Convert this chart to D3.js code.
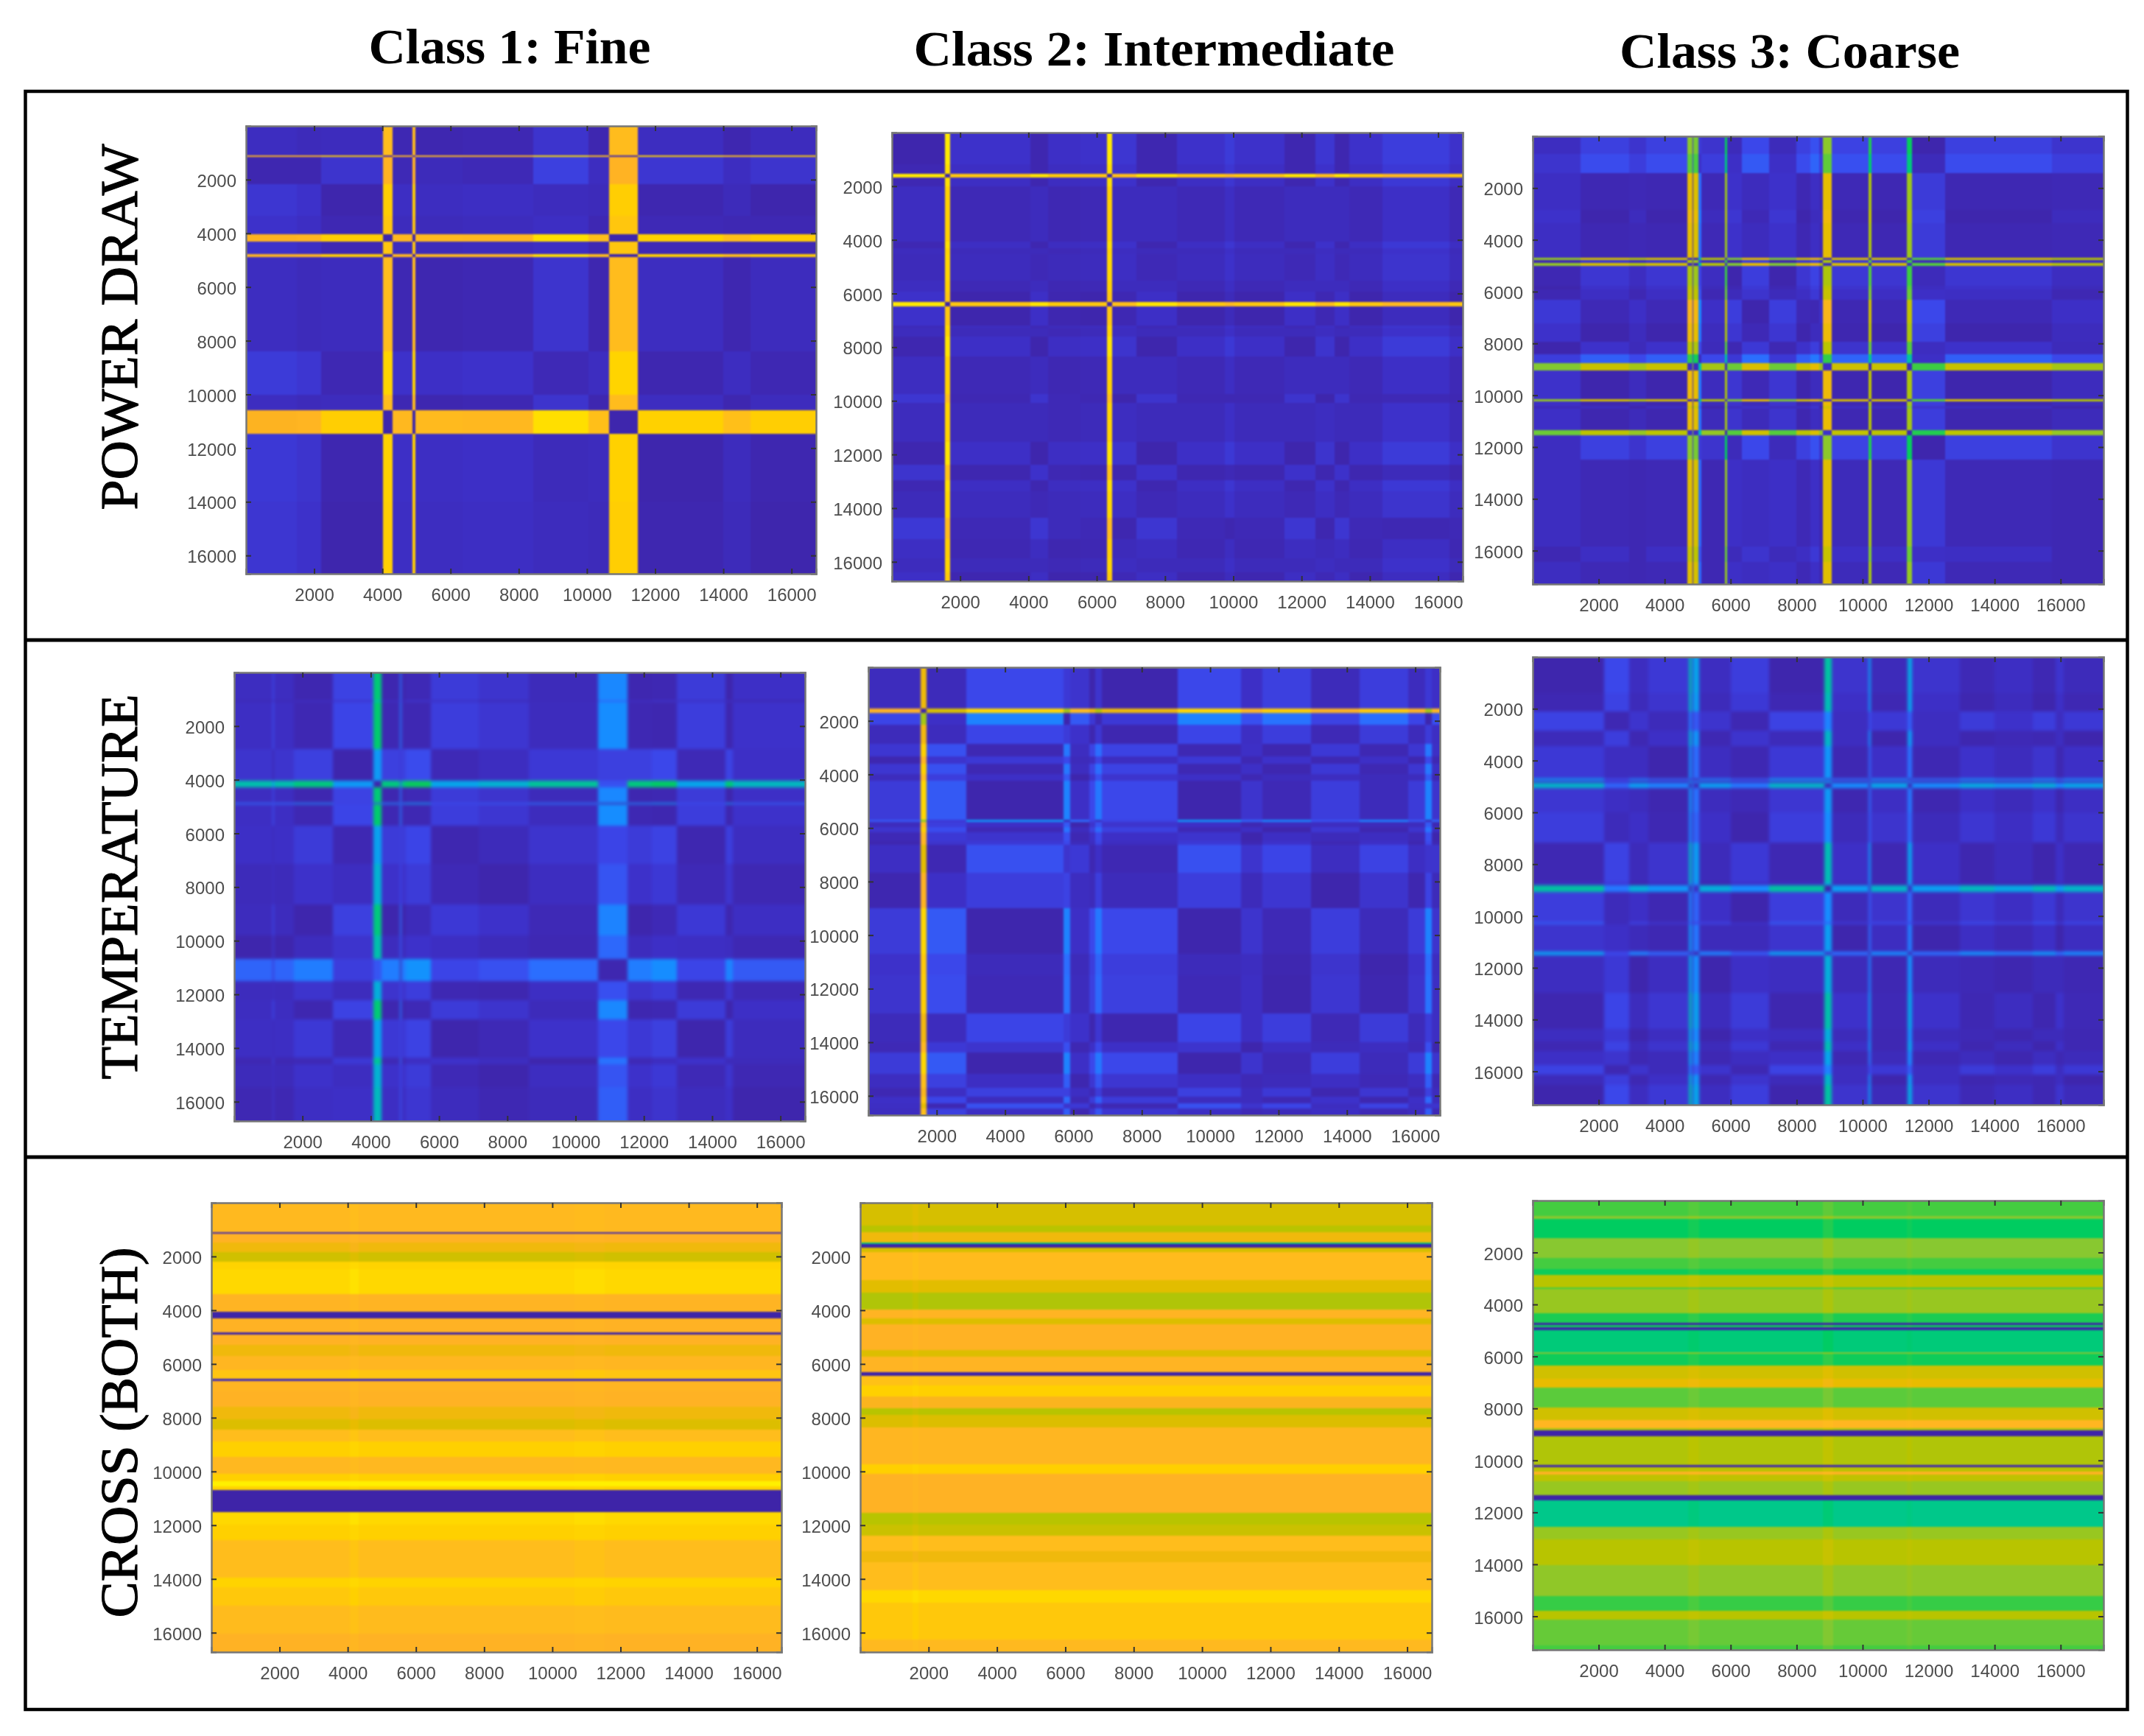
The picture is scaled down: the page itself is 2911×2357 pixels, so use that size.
<!DOCTYPE html>
<html><head><meta charset="utf-8">
<style>html,body{margin:0;padding:0;background:#fff}svg{display:block}</style>
<script src="https://cdn.jsdelivr.net/npm/d3@7"></script>
</head><body>
<script>
// ---- data: [segment start, level] ----
const columnTitles = ["Class 1: Fine", "Class 2: Intermediate", "Class 3: Coarse"];
const rowTitles = ["POWER DRAW", "TEMPERATURE", "CROSS (BOTH)"];
const tickValues = [2000,4000,6000,8000,10000,12000,14000,16000];

const power1Cols = [[0,.16],[1500,.14],[2200,.05],[4020,1.0],[4300,.12],[4880,1.0],[4960,.11],[6350,.12],[8420,0],[10050,.09],[10640,1.0],[11500,.04],[14000,.09],[14800,.05]];
const power1Rows = [[0,.10],[1090,1.0],[1150,.15],[2170,.05],[3350,.07],[4020,1.0],[4300,.07],[4780,1.0],[4890,.10],[8400,.03],[10020,.10],[10600,1.0],[11480,.04],[14000,.05]];

const power2Cols = [[0,.01],[1555,1.03],[1713,.10],[4057,.02],[4564,.09],[5522,.10],[6311,1.03],[6446,.12],[7156,.02],[8340,.10],[9748,.14],[10030,.10],[11495,.02],[12397,.12],[12960,.02],[13389,.10],[14369,.15],[16341,.10]];
const power2Rows = [[0,.01],[1190,.03],[1536,1.03],[1686,.03],[2000,.07],[4077,.03],[4308,.06],[4539,.05],[5521,.07],[5925,.10],[6306,1.03],[6468,.10],[7195,.05],[7311,.06],[7600,.02],[8350,.07],[9736,.12],[10083,.06],[11527,.02],[12393,.11],[12970,.03],[13375,.05],[14357,.13],[15165,.08],[15858,.06],[16378,.09]];

const power3Cols = [[0,.14],[1457,.05],[2915,.10],[3440,.05],[4690,.85],[4840,.10],[4875,.83],[5015,.33],[5110,.10],[5830,.74],[5900,.16],[6330,.02],[7171,.16],[7985,.05],[8420,0],[8690,.10],[8800,.85],[9070,.04],[10180,.76],[10260,.05],[11330,.74],[11500,.20],[12510,.05],[15740,.10]];
const power3Rows = [[0,.20],[695,.24],[1414,.07],[2851,.05],[3366,.07],[4684,.80],[4780,.16],[4888,.80],[4996,.16],[5786,.14],[5906,.12],[6325,.02],[7224,.05],[7943,.14],[8422,.28],[8757,.78],[9057,.05],[10160,.80],[10243,.06],[10400,.10],[10520,.06],[11357,.76],[11537,.20],[12495,.08],[15850,.12],[16450,.08]];

const temp1Cols = [[0,.10],[1120,.22],[1160,.10],[1758,.05],[2885,.20],[4068,.55],[4316,.05],[4857,.32],[4900,.05],[5026,.01],[5759,.17],[7168,.14],[8633,.08],[10661,.35],[11529,.05],[12239,.02],[12972,.17],[14380,.04],[14606,.12]];
const temp1Rows = [[0,.04],[1050,.12],[1100,.03],[2867,.20],[4046,.55],[4277,.04],[4855,.36],[4925,.03],[5699,.18],[7144,.14],[8647,.05],[9803,.10],[10670,.34],[11502,.15],[12230,.04],[12924,.17],[14369,.08],[14600,.14],[15467,.12]];

const temp2Cols = [[0,.13],[1534,.98],[1695,.22],[2870,0],[5715,.30],[5900,.08],[6457,.18],[6643,.28],[6828,.18],[9055,0],[10910,.10],[11529,.03],[12951,.14],[14374,.04],[15796,.13],[16291,.30],[16477,.10]];
const temp2Rows = [[0,.18],[1552,.98],[1710,.30],[2144,.17],[2868,.02],[3328,.12],[3591,.02],[3986,.08],[4249,0],[5696,.34],[5775,.08],[5959,.03],[6150,.10],[6485,.12],[6617,.20],[7669,.14],[8985,0],[10695,.04],[11484,.03],[12931,.17],[13984,.10],[14378,0],[15167,.07],[15694,.15],[16023,.05],[16286,.20],[16483,.07]];

const temp3Cols = [[0,.06],[2157,.24],[2915,.12],[3498,.18],[4722,.50],[4816,.18],[4874,.44],[5037,.12],[6003,.20],[7171,.06],[8840,.52],[9070,.16],[10180,.42],[10250,.10],[11360,.45],[11497,.16],[12943,.09],[13992,.13],[15158,.08],[15858,.16],[16091,.10]];
const temp3Rows = [[0,.06],[1399,.08],[2117,.22],[2835,.10],[3433,.18],[4688,.42],[4784,.15],[4868,.48],[5071,.17],[6004,.20],[7176,.08],[8695,.12],[8814,.52],[9078,.20],[10250,.28],[10310,.16],[11362,.42],[11505,.12],[12965,.07],[14375,.12],[14854,.08],[15213,.14],[15751,.22],[16110,.10],[16529,.06]];

const cross1Rows = [[0,.90],[1085,.02],[1155,.86],[1490,.82],[1835,.76],[2205,.98],[2470,1.0],[3390,.87],[4050,0],[4300,.86],[4825,0],[4905,.86],[5300,.82],[5700,.88],[6220,.94],[6565,.05],[6625,.87],[7030,.86],[7600,.82],[8065,.78],[8435,.92],[8875,.97],[9450,.89],[10085,.97],[10375,1.05],[10550,.98],[10685,0],[11505,1.0],[11990,.97],[12565,.92],[13950,.98],[14300,.95],[15000,.91],[16030,.86]];
const cross1ColShift = [[0,0],[4070,.02],[4320,0],[10650,.01],[11530,0]];

const cross2Rows = [[0,.77],[855,.72],[1085,.82],[1490,.52],[1523,0],[1685,.77],[1835,.91],[2875,.79],[3335,.71],[3970,.87],[4315,.78],[4510,.86],[5470,.78],[5735,.87],[6300,0],[6450,.93],[6800,.97],[7200,.85],[7660,.72],[7890,.78],[8355,.88],[9740,.97],[10085,.86],[11530,.72],[11990,.75],[12395,.92],[12970,.82],[13375,.92],[14415,1.0],[14875,.95],[16260,.90]];
const cross2ColShift = [[0,0],[1540,.015],[1700,0]];

const cross3Rows = [[0,.60],[605,.66],[700,.55],[1450,.66],[2220,.60],[2640,.56],[2855,.72],[3345,.60],[3415,.68],[4330,.57],[4695,0],[4795,.56],[4890,0],[4990,.52],[5850,.66],[5905,.56],[6340,.76],[6860,.80],[7210,.62],[7960,.76],[8450,.88],[8760,.70],[8830,0],[9080,.71],[10165,.02],[10265,.72],[10440,.86],[10540,.73],[10800,.68],[11330,0],[11530,.50],[12555,.68],[13050,.72],[14030,.67],[15225,.59],[15790,.72],[16140,.63],[17120,.60]];
const cross3ColShift = [[0,0],[4700,.015],[5050,0],[8800,.025],[9100,0],[11330,.01],[11500,0]];

const colorStops  = [0,.10,.20,.28,.34,.40,.46,.50,.55,.60,.66,.72,.76,.80,.86,.92,.97,1.0,1.05];
const colorValues = ["#3e24a8","#3d30c8","#3b48ec","#2a70ff","#1490ff","#05a8e8","#00bfb0","#00c88a","#00cc60","#44cc40","#88c830","#b8c400","#d0c000","#e8bc00","#ffb224","#ffbd1c","#ffd000","#ffd800","#fff000"];

// ---- layout ----
const W = 2911, H = 2357;
const panels = [
 {kind:"dist",blur:1.2,cols:power1Cols,rows:power1Rows,x0:334,x1:1108,y0:171,y1:779,nx:16720,ny:16680},
 {kind:"dist",blur:1.2,cols:power2Cols,rows:power2Rows,x0:1211,x1:1986,y0:180,y1:789,nx:16720,ny:16720},
 {kind:"dist",blur:1.0,cols:power3Cols,rows:power3Rows,x0:2081,x1:2856,y0:185,y1:793,nx:17300,ny:17290},
 {kind:"dist",blur:2.0,cols:temp1Cols,rows:temp1Rows,x0:318,x1:1093,y0:913,y1:1522,nx:16720,ny:16720},
 {kind:"dist",blur:1.7,cols:temp2Cols,rows:temp2Rows,x0:1179,x1:1955,y0:906,y1:1514,nx:16720,ny:16720},
 {kind:"dist",blur:2.0,cols:temp3Cols,rows:temp3Rows,x0:2081,x1:2856,y0:892,y1:1500,nx:17300,ny:17290},
 {kind:"cross",blur:1.0,cols:cross1ColShift,rows:cross1Rows,x0:287,x1:1061,y0:1633,y1:2243,nx:16720,ny:16720},
 {kind:"cross",blur:1.0,cols:cross2ColShift,rows:cross2Rows,x0:1168,x1:1944,y0:1633,y1:2243,nx:16720,ny:16720},
 {kind:"cross",blur:1.0,cols:cross3ColShift,rows:cross3Rows,x0:2081,x1:2856,y0:1630,y1:2240,nx:17300,ny:17290}
];
const titleLayout = [{x:692,y:86,w:383},{x:1567,y:89,w:653},{x:2430,y:92,w:462}];
const sideLayout  = [{y:444,w:497},{y:1204,w:523},{y:1945,w:503}];

const color = d3.scaleLinear().domain(colorStops).range(colorValues).clamp(true);

const svg = d3.select("body").append("svg").attr("width",W).attr("height",H).attr("viewBox",`0 0 ${W} ${H}`);
svg.append("rect").attr("width",W).attr("height",H).attr("fill","#fff");
const defs = svg.append("defs");
defs.append("filter").attr("id","softText").attr("x","-5%").attr("y","-20%").attr("width","110%").attr("height","140%")
  .append("feGaussianBlur").attr("stdDeviation",0.5);

// frame
svg.append("rect").attr("x",34.5).attr("y",124).attr("width",2854).attr("height",2197)
  .attr("fill","none").attr("stroke","#000").attr("stroke-width",4.5);
[869,1571].forEach(y=>svg.append("line").attr("x1",34).attr("x2",2889).attr("y1",y).attr("y2",y)
  .attr("stroke","#000").attr("stroke-width",5));

// titles
svg.selectAll("text.col").data(columnTitles).join("text").attr("class","col")
  .attr("x",(d,i)=>titleLayout[i].x).attr("y",(d,i)=>titleLayout[i].y)
  .attr("text-anchor","middle").attr("font-family","'Liberation Serif',serif").attr("font-weight","bold")
  .attr("font-size",68).attr("textLength",(d,i)=>titleLayout[i].w).attr("lengthAdjust","spacingAndGlyphs")
  .attr("fill","#000").text(d=>d);
svg.selectAll("text.side").data(rowTitles).join("text").attr("class","side")
  .attr("transform",(d,i)=>`translate(186,${sideLayout[i].y}) rotate(-90)`)
  .attr("text-anchor","middle").attr("font-family","'Liberation Serif',serif")
  .attr("font-size",72).attr("textLength",(d,i)=>sideLayout[i].w).attr("lengthAdjust","spacingAndGlyphs")
  .attr("stroke","#000").attr("stroke-width",1.1)
  .attr("fill","#000").text(d=>d);

panels.forEach((p,i)=>{
  const xs = d3.scaleLinear().domain([1,p.nx]).range([p.x0,p.x1]);
  const ys = d3.scaleLinear().domain([1,p.ny]).range([p.y0,p.y1]);
  defs.append("clipPath").attr("id","clip"+i).append("rect")
    .attr("x",p.x0).attr("y",p.y0).attr("width",p.x1-p.x0).attr("height",p.y1-p.y0);
  defs.append("filter").attr("id","soft"+i).attr("x","-5%").attr("y","-5%").attr("width","110%").attr("height","110%")
    .attr("color-interpolation-filters","sRGB")
    .append("feGaussianBlur").attr("stdDeviation",p.blur);
  const g = svg.append("g").attr("clip-path",`url(#clip${i})`).append("g").attr("filter",`url(#soft${i})`);
  const OUT = 10;
  const cells = [];
  p.rows.forEach((r,ri)=>{
    const yA = ri===0 ? p.y0-OUT : ys(r[0]);
    const yB = ri===p.rows.length-1 ? p.y1+OUT : ys(p.rows[ri+1][0]);
    p.cols.forEach((c,ci)=>{
      const xA = ci===0 ? p.x0-OUT : xs(c[0]);
      const xB = ci===p.cols.length-1 ? p.x1+OUT : xs(p.cols[ci+1][0]);
      const v = p.kind==="dist" ? 0.015+Math.abs(r[1]-c[1]) : (r[1]<.1 ? r[1] : r[1]+c[1]);
      cells.push({xA,xB,yA,yB,v});
    });
  });
  g.selectAll("rect").data(cells).join("rect")
    .attr("x",d=>d.xA).attr("y",d=>d.yA)
    .attr("width",d=>d.xB-d.xA).attr("height",d=>d.yB-d.yA)
    .attr("fill",d=>color(d.v)).attr("shape-rendering","crispEdges");

  const styleAxis = a=>{
    a.selectAll("path.domain").attr("stroke","#777").attr("stroke-width",2.5);
    a.selectAll("line").attr("stroke","#333").attr("stroke-width",2);
    a.selectAll("text").attr("fill","#4d4d4d").attr("font-size",24)
      .attr("font-family","'Liberation Sans',Arial,sans-serif").attr("filter","url(#softText)");
  };
  svg.append("g").attr("transform",`translate(0,${p.y1})`)
    .call(d3.axisBottom(xs).tickValues(tickValues).tickSize(-7).tickPadding(20).tickFormat(d3.format("d"))).call(styleAxis);
  svg.append("g").attr("transform",`translate(${p.x0},0)`)
    .call(d3.axisLeft(ys).tickValues(tickValues).tickSize(-7).tickPadding(13).tickFormat(d3.format("d"))).call(styleAxis)
    .selectAll("text").attr("dy","0.4em");
  svg.append("g").attr("transform",`translate(0,${p.y0})`)
    .call(d3.axisTop(xs).tickValues(tickValues).tickSize(-7).tickFormat("")).call(styleAxis);
  svg.append("g").attr("transform",`translate(${p.x1},0)`)
    .call(d3.axisRight(ys).tickValues(tickValues).tickSize(-7).tickFormat("")).call(styleAxis);
});
</script>
</body></html>
